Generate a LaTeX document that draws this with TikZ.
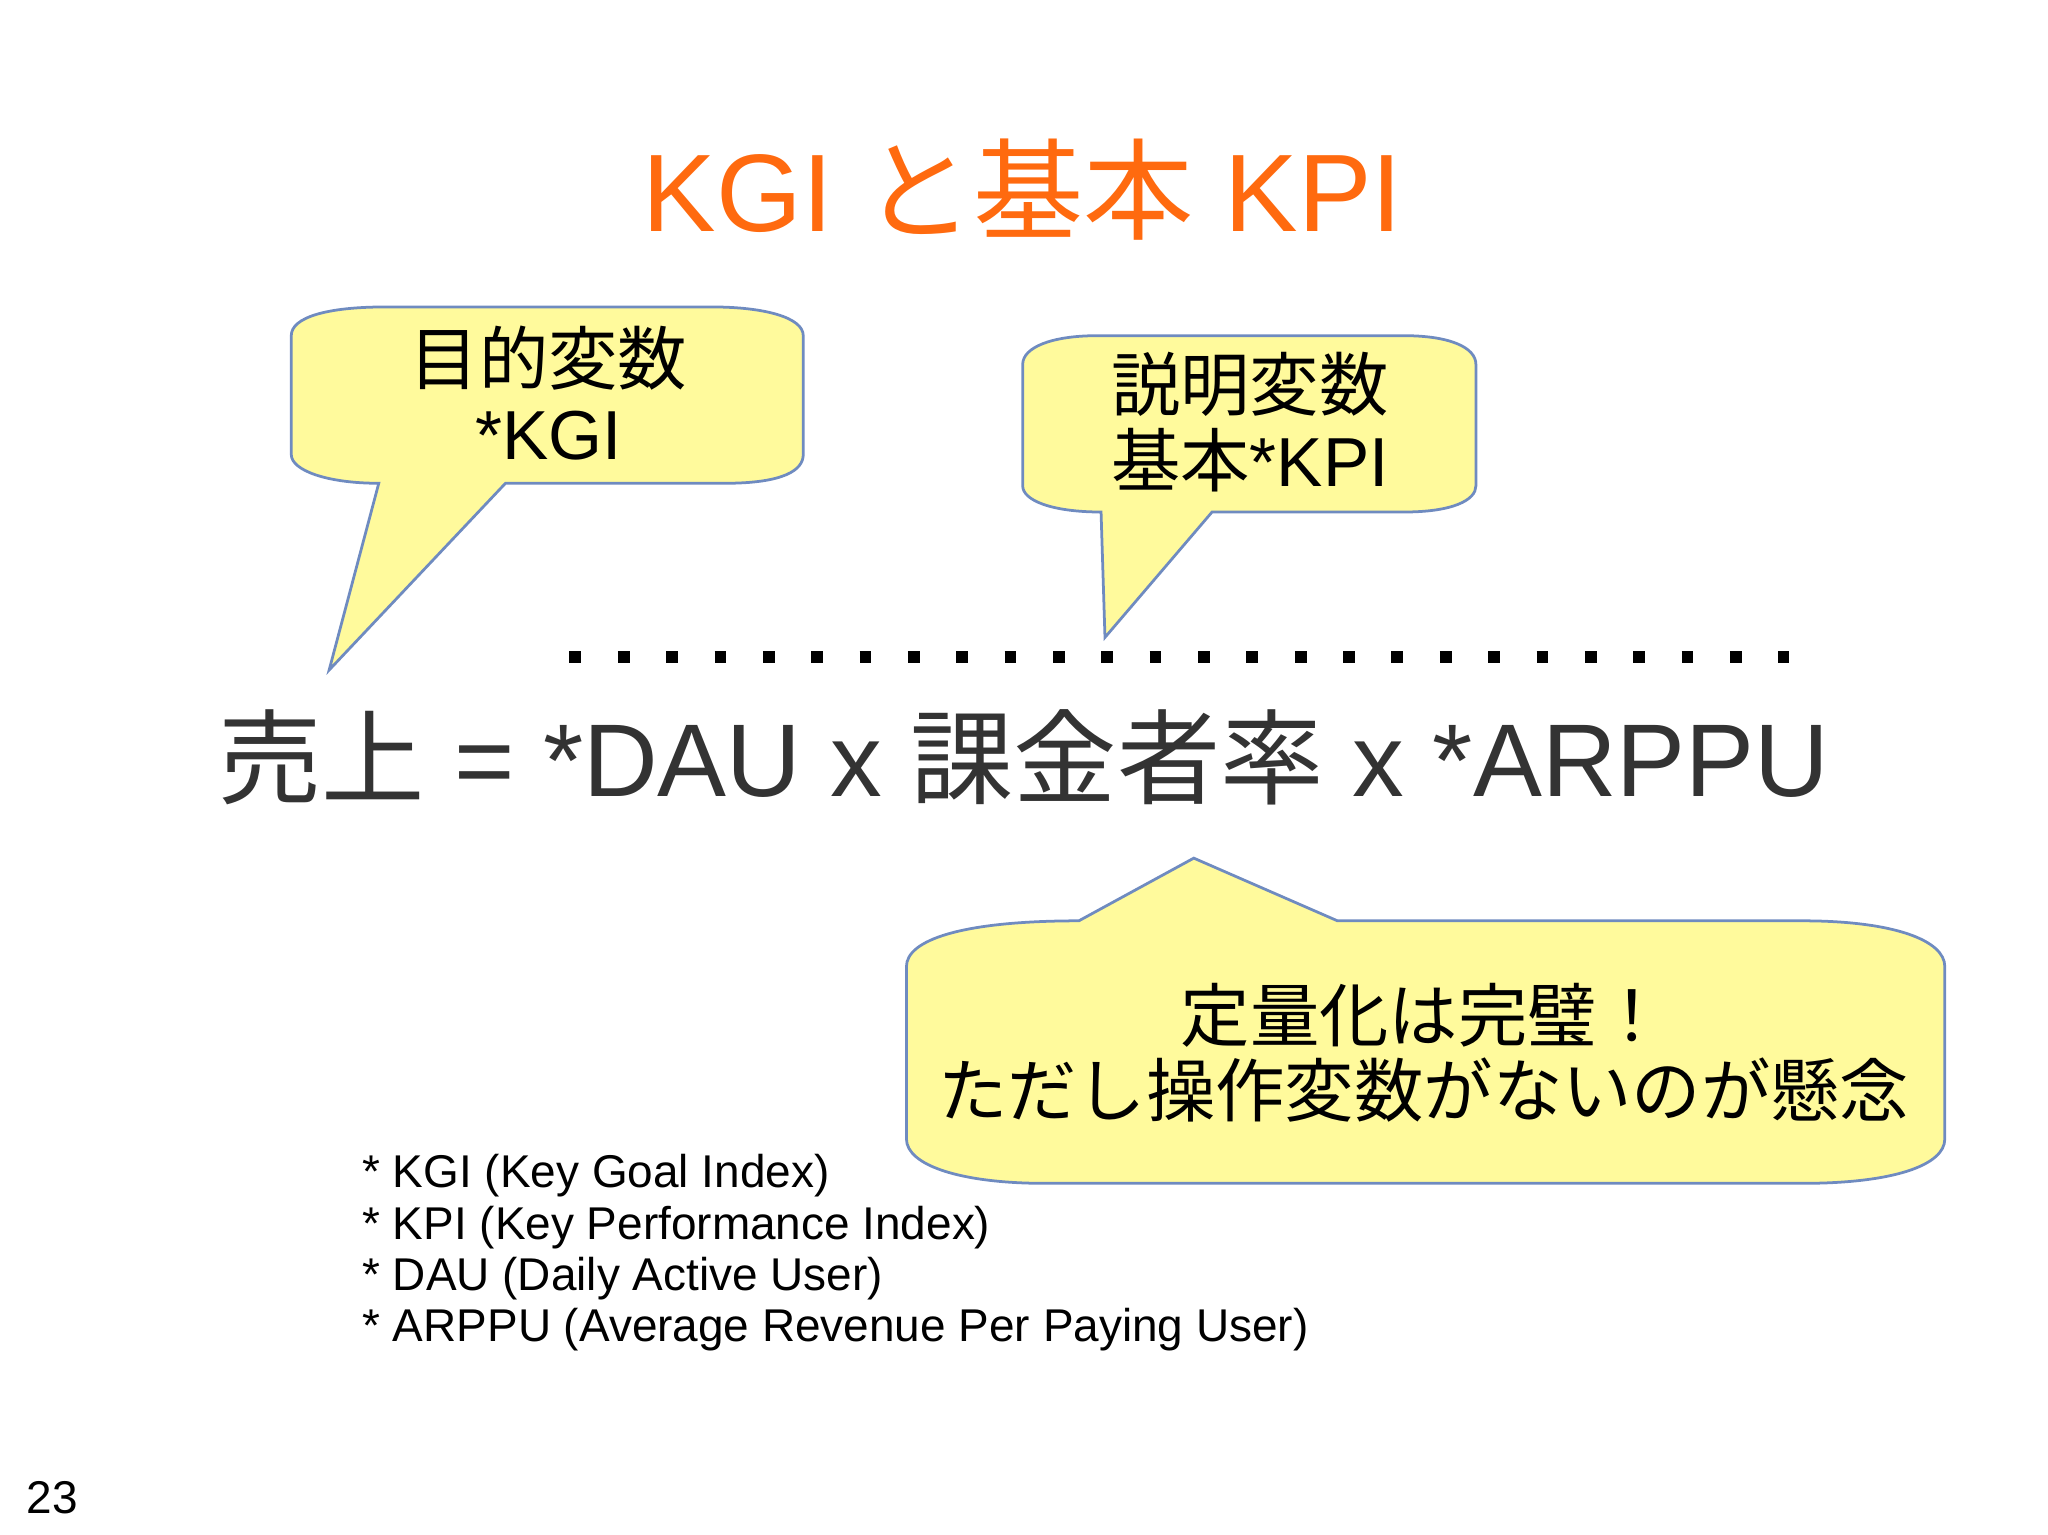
\documentclass[tikz,border=0pt]{standalone}
\usepackage{fontspec}
\setmainfont{Liberation Sans}
\newfontfamily\jp{Noto Sans CJK JP}
\usetikzlibrary{positioning}
\definecolor{callfill}{HTML}{FFFA9C}
\definecolor{calledge}{HTML}{6F8BC0}
\definecolor{titleorange}{HTML}{FF6A0F}
\definecolor{eqgray}{HTML}{333333}
\begin{document}
\begin{tikzpicture}[x=0.01cm,y=-0.01cm,
    callout/.style={fill=callfill,draw=calledge,line width=0.6pt},
    calltext/.style={align=center,font=\fontsize{15.1}{16.5}\selectfont},
    foot/.style={anchor=west,font=\fontsize{10}{12}\selectfont}]
        \useasboundingbox (0,0) rectangle (1568,1175);
        % Title
        \node[text=titleorange,font=\fontsize{24}{28}\selectfont] (title) at (783,145)
            {KGI {\jp と基本} KPI};

        % Callout: KGI
        \draw[callout] (290,370) -- (252,513) -- (387,370) -- (555,370)
            .. controls (600,370) and (615,360) .. (615,348) -- (615,257)
            .. controls (615,243) and (585,235) .. (545,235) -- (295,235)
            .. controls (250,235) and (223,243) .. (223,257) -- (223,348)
            .. controls (223,360) and (250,370) .. (290,370) -- cycle;
        \node[calltext] (kgi) at (420,301) {{\jp 目的変数}\\*KGI};

        % Callout: KPI
        \draw[callout] (843,392) -- (846,488) -- (928,392) -- (1075,392)
            .. controls (1112,392) and (1130,383) .. (1130,372) -- (1130,279)
            .. controls (1130,266) and (1110,257) .. (1075,257) -- (840,257)
            .. controls (805,257) and (783,266) .. (783,279) -- (783,372)
            .. controls (783,383) and (805,392) .. (843,392) -- cycle;
        \node[calltext] (kpi) at (957,323) {{\jp 説明変数}\\{\jp 基本}*KPI};

        % Callout: comment
        \draw[callout] (826,705) -- (914,657) -- (1024,705) -- (1380,705)
            .. controls (1450,705) and (1489,720) .. (1489,740) -- (1489,872)
            .. controls (1489,892) and (1450,906) .. (1380,906) -- (800,906)
            .. controls (735,906) and (694,892) .. (694,872) -- (694,740)
            .. controls (694,720) and (735,705) .. (826,705) -- cycle;
        \node[calltext] (note) at (1090,806)
            {\jp 定量化は完璧！\\\jp ただし操作変数がないのが懸念};

        % Dotted bracket
        \coordinate (dotL) at (436,503);
        \coordinate (dotR) at (1370,503);
        \draw[line width=0.09cm,dash pattern=on 0.09cm off 0.28cm] (dotL) -- (dotR);

        % Equation
        \node[text=eqgray,font=\fontsize{22.5}{26}\selectfont] (eq) at (784,580)
            {{\jp 売上} = *DAU x {\jp 課金者率} x *ARPPU};

        % Footnotes
        \node[foot] (f1) at (265,900) {* KGI (Key Goal Index)};
        \node[foot] (f2) at (265,940) {* KPI (Key Performance Index)};
        \node[foot] (f3) at (265,979) {* DAU (Daily Active User)};
        \node[foot] (f4) at (265,1018) {* ARPPU (Average Revenue Per Paying User)};

        \node[anchor=west,font=\fontsize{10}{12}\selectfont] (page) at (8,1147) {23};
\end{tikzpicture}
\end{document}
